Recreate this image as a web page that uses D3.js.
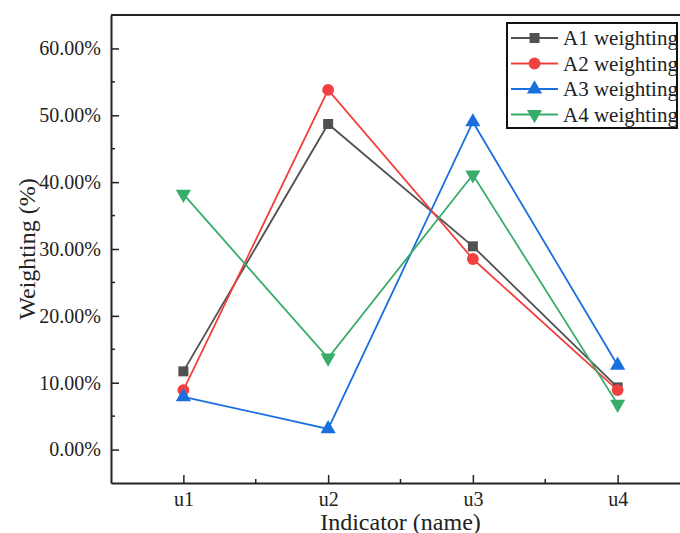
<!DOCTYPE html>
<html>
<head>
<meta charset="utf-8">
<script src="https://cdn.jsdelivr.net/npm/d3@7"></script>
<style>
body { margin: 0; background: #fff; }
</style>
</head>
<body>
<div id="chart-area"></div>
<script>
var categories = ["u1", "u2", "u3", "u4"];
var seriesNames = ["A1 weighting", "A2 weighting", "A3 weighting", "A4 weighting"];
var a1 = [11.7, 48.7, 30.4, 9.3];
var a2 = [8.9, 53.8, 28.5, 8.9];
var a3 = [7.9, 3.1, 49.0, 12.6];
var a4 = [38.2, 13.7, 41.1, 6.8];
var yTicks = [0, 10, 20, 30, 40, 50, 60];
var colors = ["#515151", "#F14040", "#1A6FDF", "#37AD6B"];
var symbols = [d3.symbolSquare, d3.symbolCircle, d3.symbolTriangle, "down"];
var FONT = "Liberation Serif";

var series = [a1, a2, a3, a4].map(function(vals, i) {
    return {name: seriesNames[i], color: colors[i], symbol: symbols[i],
        values: vals.map(function(v, j) { return {cat: j + 1, value: v}; })};
});

var width = 680, height = 533;
var margin = {top: 15, right: -10, bottom: 50, left: 111};
var svg = d3.select("#chart-area").append("svg")
    .attr("width", width)
    .attr("height", height)
    .attr("font-family", FONT);

var x = d3.scaleLinear()
    .domain([0.5, 4.5])
    .range([margin.left, width - margin.right]);
var y = d3.scaleLinear()
    .domain([-5, 65])
    .range([height - margin.bottom, margin.top]);

// frame top line
svg.append("line")
    .attr("x1", x(0.5)).attr("x2", x(4.5))
    .attr("y1", y(65)).attr("y2", y(65))
    .attr("stroke", "#222").attr("stroke-width", 2);

// bottom axis, ticks inward
var bottomAxis = d3.axisBottom(x)
    .tickValues([1, 2, 3, 4])
    .tickFormat(function(d) { return categories[d - 1]; })
    .tickSizeInner(-8).tickSizeOuter(0).tickPadding(9);
var gx = svg.append("g")
    .attr("transform", "translate(0," + y(-5) + ")")
    .call(bottomAxis)
    .attr("font-family", FONT)
    .attr("font-size", 20);
gx.select(".domain").attr("stroke", "#222").attr("stroke-width", 2);
gx.selectAll(".tick line").attr("stroke", "#222").attr("stroke-width", 1.5);
gx.selectAll("text").attr("font-family", FONT).attr("font-size", 20).attr("fill", "#222");
gx.selectAll(".minor").data([1.5, 2.5, 3.5]).enter().append("line")
    .attr("class", "minor")
    .attr("x1", function(d) { return x(d); }).attr("x2", function(d) { return x(d); })
    .attr("y1", 0).attr("y2", -4)
    .attr("stroke", "#222").attr("stroke-width", 1.5);

// left axis
var leftAxis = d3.axisLeft(y)
    .tickValues(yTicks)
    .tickFormat(function(d) { return d.toFixed(2) + "%"; })
    .tickSizeInner(-8).tickSizeOuter(0).tickPadding(10);
var gy = svg.append("g")
    .attr("transform", "translate(" + x(0.5) + ",0)")
    .call(leftAxis)
    .attr("font-family", FONT)
    .attr("font-size", 20);
gy.select(".domain").attr("stroke", "#222").attr("stroke-width", 2);
gy.selectAll(".tick line").attr("stroke", "#222").attr("stroke-width", 1.5);
gy.selectAll("text").attr("font-family", FONT).attr("font-size", 20).attr("fill", "#222");
gy.selectAll(".minor").data([5, 15, 25, 35, 45, 55]).enter().append("line")
    .attr("class", "minor")
    .attr("y1", function(d) { return y(d); }).attr("y2", function(d) { return y(d); })
    .attr("x1", 0).attr("x2", 4)
    .attr("stroke", "#222").attr("stroke-width", 1.5);

// axis titles
svg.append("text")
    .attr("x", (x(0.5) + x(4.5)) / 2)
    .attr("y", 530)
    .attr("font-family", FONT)
    .attr("font-size", 24)
    .attr("text-anchor", "middle")
    .attr("fill", "#222")
    .text("Indicator (name)");
svg.append("text")
    .attr("transform", "translate(35," + y(30) + ") rotate(-90)")
    .attr("font-family", FONT)
    .attr("font-size", 24)
    .attr("text-anchor", "middle")
    .attr("fill", "#222")
    .text("Weighting (%)");

function symbolPath(s, size) {
    if (s === "down") {
        return d3.symbol().type(d3.symbolTriangle).size(size)();
    }
    return d3.symbol().type(s).size(size)();
}

var line = d3.line()
    .x(function(d) { return x(d.cat); })
    .y(function(d) { return y(d.value); });

series.forEach(function(s) {
    var g = svg.append("g");
    g.append("path")
        .datum(s.values)
        .attr("d", line)
        .attr("fill", "none")
        .attr("stroke", s.color)
        .attr("stroke-width", 1.8);
    g.selectAll("path.pt").data(s.values).enter().append("path")
        .attr("class", "pt")
        .attr("d", symbolPath(s.symbol, s.symbol === d3.symbolCircle ? 110 : 100))
        .attr("transform", function(d) {
            return "translate(" + x(d.cat) + "," + y(d.value) + ")" + (s.symbol === "down" ? " rotate(180)" : "");
        })
        .attr("fill", s.color);
});

// legend
var lg = svg.append("g").attr("transform", "translate(507,23)");
lg.append("rect")
    .attr("width", 170).attr("height", 105)
    .attr("fill", "#fff").attr("stroke", "#111").attr("stroke-width", 2);
series.forEach(function(s, i) {
    var yy = 15 + i * 25.5;
    lg.append("line")
        .attr("x1", 4).attr("x2", 51).attr("y1", yy).attr("y2", yy)
        .attr("stroke", s.color).attr("stroke-width", 1.8);
    lg.append("path")
        .attr("d", symbolPath(s.symbol, s.symbol === d3.symbolCircle ? 110 : 100))
        .attr("transform", "translate(27.5," + yy + ")" + (s.symbol === "down" ? " rotate(180)" : ""))
        .attr("fill", s.color);
    lg.append("text")
        .attr("x", 56).attr("y", yy + 7)
        .attr("font-family", FONT)
        .attr("font-size", 21)
        .attr("fill", "#222")
        .text(s.name);
});
</script>
</body>
</html>
